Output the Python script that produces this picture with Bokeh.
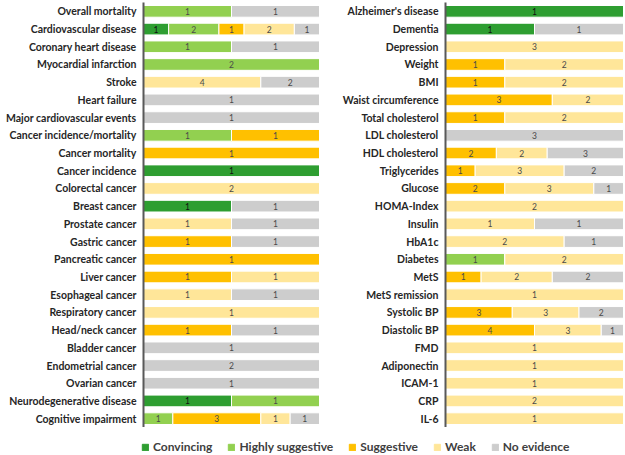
from bokeh.plotting import figure
from bokeh.models import ColumnDataSource, FactorRange, Range1d, Legend, LegendItem
from bokeh.layouts import row, column
from bokeh.core.properties import value
from bokeh.embed import file_html
from bokeh.resources import INLINE

categories = ["Convincing", "Highly suggestive", "Suggestive", "Weak", "No evidence"]
colors = ["#2E9E31", "#92D050", "#FFC000", "#FFE699", "#CDCDCD"]

left_labels = ["Overall mortality", "Cardiovascular disease", "Coronary heart disease",
               "Myocardial infarction", "Stroke", "Heart failure", "Major cardiovascular events",
               "Cancer incidence/mortality", "Cancer mortality", "Cancer incidence",
               "Colorectal cancer", "Breast cancer", "Prostate cancer", "Gastric cancer",
               "Pancreatic cancer", "Liver cancer", "Esophageal cancer", "Respiratory cancer",
               "Head/neck cancer", "Bladder cancer", "Endometrial cancer", "Ovarian cancer",
               "Neurodegenerative disease", "Cognitive impairment"]
left_convincing = [0, 1, 0, 0, 0, 0, 0, 0, 0, 1, 0, 1, 0, 0, 0, 0, 0, 0, 0, 0, 0, 0, 1, 0]
left_highly     = [1, 2, 1, 2, 0, 0, 0, 1, 0, 0, 0, 0, 0, 0, 0, 0, 0, 0, 0, 0, 0, 0, 1, 1]
left_suggestive = [0, 1, 0, 0, 0, 0, 0, 1, 1, 0, 0, 0, 0, 1, 1, 1, 0, 0, 1, 0, 0, 0, 0, 3]
left_weak       = [0, 2, 0, 0, 4, 0, 0, 0, 0, 0, 2, 0, 1, 0, 0, 1, 1, 1, 0, 0, 0, 0, 0, 1]
left_none       = [1, 1, 1, 0, 2, 1, 1, 0, 0, 0, 0, 1, 1, 1, 0, 0, 1, 0, 1, 1, 2, 1, 0, 1]

right_labels = ["Alzheimer's disease", "Dementia", "Depression", "Weight", "BMI",
                "Waist circumference", "Total cholesterol", "LDL cholesterol", "HDL cholesterol",
                "Triglycerides", "Glucose", "HOMA-Index", "Insulin", "HbA1c", "Diabetes", "MetS",
                "MetS remission", "Systolic BP", "Diastolic BP", "FMD", "Adiponectin", "ICAM-1",
                "CRP", "IL-6"]
right_convincing = [1, 1, 0, 0, 0, 0, 0, 0, 0, 0, 0, 0, 0, 0, 0, 0, 0, 0, 0, 0, 0, 0, 0, 0]
right_highly     = [0, 0, 0, 0, 0, 0, 0, 0, 0, 0, 0, 0, 0, 0, 1, 0, 0, 0, 0, 0, 0, 0, 0, 0]
right_suggestive = [0, 0, 0, 1, 1, 3, 1, 0, 2, 1, 2, 0, 0, 0, 0, 1, 0, 3, 4, 0, 0, 0, 0, 0]
right_weak       = [0, 0, 3, 2, 2, 2, 2, 0, 2, 3, 3, 2, 1, 2, 2, 2, 1, 3, 3, 1, 1, 1, 2, 1]
right_none       = [0, 1, 0, 0, 0, 0, 0, 3, 3, 2, 1, 0, 1, 1, 0, 2, 0, 2, 1, 0, 0, 0, 0, 0]

LABEL_FONT = "Lato"
FRAME_H = 425
TOP = 2


def panel(labels, series, border_left, frame_w):
    keys = ["c0", "c1", "c2", "c3", "c4"]
    totals = [sum(vals) for vals in zip(*series)]
    data = {"y": labels}
    for k, s in zip(keys, series):
        data[k] = [v / t for v, t in zip(s, totals)]
    src = ColumnDataSource(data)

    p = figure(y_range=FactorRange(*reversed(labels)), x_range=Range1d(0, 1),
               frame_width=frame_w, frame_height=FRAME_H,
               min_border_left=border_left, min_border_right=0, min_border_top=TOP,
               min_border_bottom=0, output_backend="svg", toolbar_location=None)
    p.hbar_stack(keys, y="y", height=0.66, color=colors, line_color="white",
                 line_width=1, source=src)

    # value labels at the centre of each non-empty segment
    tx, ty, tt, tc = [], [], [], []
    for i, lab in enumerate(labels):
        cum = 0.0
        for j, s in enumerate(series):
            frac = s[i] / totals[i]
            if s[i] > 0:
                tx.append(cum + frac / 2)
                ty.append(lab)
                tt.append(str(s[i]))
                tc.append("#111111" if j == 0 else "#4a4a4a")
            cum += frac
    p.text(x=tx, y=ty, text=tt, text_color=tc, text_align="center",
           text_baseline="middle", text_font_size="8.5px", text_font=value(LABEL_FONT))

    p.xaxis.visible = False
    p.xgrid.visible = False
    p.ygrid.visible = False
    p.outline_line_color = None
    ax = p.yaxis[0]
    ax.axis_line_color = "#595959"
    ax.axis_line_width = 2
    ax.major_tick_line_color = None
    ax.minor_tick_line_color = None
    ax.major_tick_out = 0
    ax.major_tick_in = 0
    ax.minor_tick_out = 0
    ax.major_label_standoff = 7
    ax.major_label_text_font = LABEL_FONT
    ax.major_label_text_font_style = "bold"
    ax.major_label_text_font_size = "10.5px"
    ax.major_label_text_color = "#262626"
    return p


p1 = panel(left_labels, [left_convincing, left_highly, left_suggestive, left_weak, left_none],
           143, 176)
p2 = panel(right_labels, [right_convincing, right_highly, right_suggestive, right_weak, right_none],
           126, 178)

pl = figure(width=623, height=28, x_range=Range1d(0, 1), y_range=Range1d(0, 1),
            min_border=0, output_backend="svg", toolbar_location=None)
pl.axis.visible = False
pl.grid.visible = False
pl.outline_line_color = None
items = []
for name, col in zip(categories, colors):
    r = pl.quad(left=[-3], right=[-2], bottom=[-3], top=[-2], color=col)
    items.append(LegendItem(label=name, renderers=[r]))
leg = Legend(items=items, orientation="horizontal", location=(141, 1),
             padding=0, margin=0, spacing=15, label_standoff=4,
             glyph_width=8, glyph_height=8, border_line_color=None,
             background_fill_alpha=0, label_text_font=LABEL_FONT,
             label_text_font_style="bold", label_text_font_size="12px",
             label_text_color="#404040")
pl.add_layout(leg)

layout = column(row(p1, p2), pl)
open("out.html", "w").write(file_html(layout, INLINE))
